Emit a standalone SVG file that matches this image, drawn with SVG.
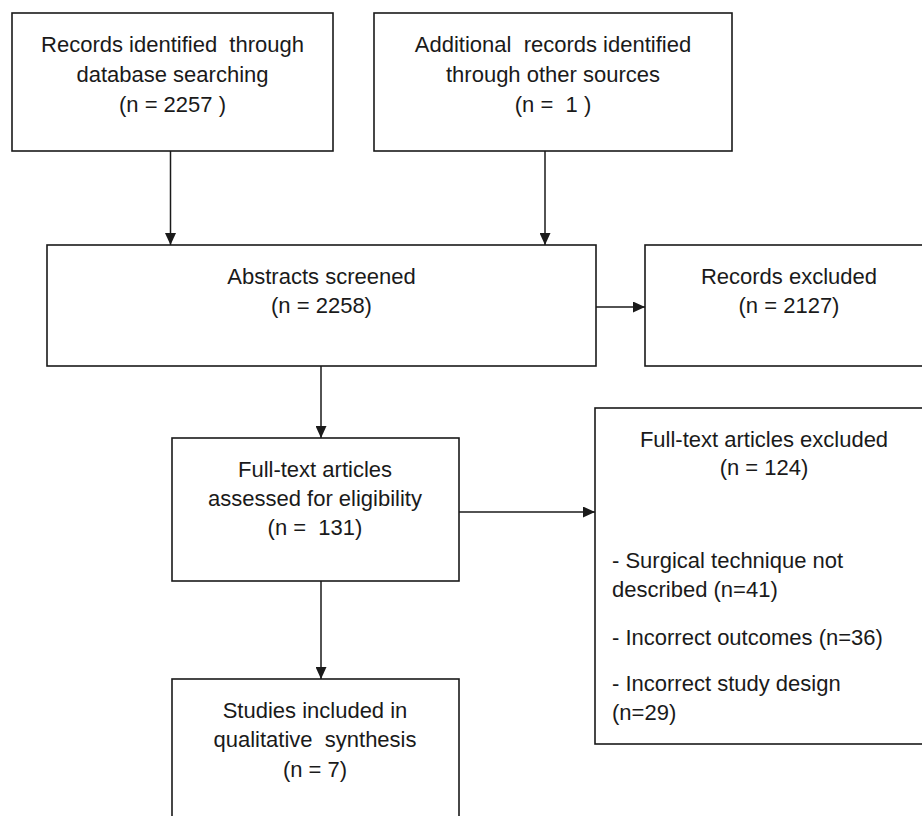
<svg xmlns="http://www.w3.org/2000/svg" width="922" height="816" viewBox="0 0 922 816">
<defs>
<style>
.box{fill:#fff;stroke:#1a1a1a;stroke-width:1.6}
.t{font-family:"Liberation Sans",Arial,sans-serif;font-size:22px;fill:#1a1a1a;white-space:pre}
.c{text-anchor:middle}
.ln{stroke:#1a1a1a;stroke-width:1.5;fill:none}
</style>
<marker id="ah" viewBox="0 0 12 11" refX="12" refY="5.5" markerWidth="12" markerHeight="11" markerUnits="userSpaceOnUse" orient="auto">
<path d="M0,0 L12,5.5 L0,11 z" fill="#1a1a1a"/>
</marker>
</defs>
<rect width="922" height="816" fill="#fff"/>
<g id="connectors">
<line class="ln" x1="170.5" y1="151" x2="170.5" y2="245" marker-end="url(#ah)"/>
<line class="ln" x1="545" y1="151" x2="545" y2="245" marker-end="url(#ah)"/>
<line class="ln" x1="596" y1="307" x2="645" y2="307" marker-end="url(#ah)"/>
<line class="ln" x1="321" y1="366" x2="321" y2="438" marker-end="url(#ah)"/>
<line class="ln" x1="459" y1="512" x2="595" y2="512" marker-end="url(#ah)"/>
<line class="ln" x1="321" y1="581" x2="321" y2="679" marker-end="url(#ah)"/>
</g>
<g id="db">
<rect class="box" x="12" y="13" width="321" height="138"/>
<text class="t c" x="172.5" y="52" xml:space="preserve">Records identified  through</text>
<text class="t c" x="172.5" y="82">database searching</text>
<text class="t c" x="172.5" y="112" xml:space="preserve">(n = 2257 )</text>
</g>
<g id="other">
<rect class="box" x="374" y="13" width="358" height="138"/>
<text class="t c" x="553" y="52" xml:space="preserve">Additional  records identified</text>
<text class="t c" x="553" y="82">through other sources</text>
<text class="t c" x="553" y="112" xml:space="preserve">(n =  1 )</text>
</g>
<g id="abstracts">
<rect class="box" x="47" y="245" width="549" height="121"/>
<text class="t c" x="321.5" y="284">Abstracts screened</text>
<text class="t c" x="321.5" y="313">(n = 2258)</text>
</g>
<g id="recexcl">
<rect class="box" x="645" y="245" width="290" height="121"/>
<text class="t c" x="789" y="284">Records excluded</text>
<text class="t c" x="789" y="313">(n = 2127)</text>
</g>
<g id="fulltext">
<rect class="box" x="172" y="438" width="287" height="143"/>
<text class="t c" x="315" y="477">Full-text articles</text>
<text class="t c" x="315" y="506">assessed for eligibility</text>
<text class="t c" x="315" y="535" xml:space="preserve">(n =  131)</text>
</g>
<g id="ftexcl">
<rect class="box" x="595" y="408" width="340" height="336"/>
<text class="t c" x="764" y="447">Full-text articles excluded</text>
<text class="t c" x="764" y="475">(n = 124)</text>
<text class="t" x="612" y="568">- Surgical technique not</text>
<text class="t" x="612" y="597">described (n=41)</text>
<text class="t" x="612" y="645">- Incorrect outcomes (n=36)</text>
<text class="t" x="612" y="691">- Incorrect study design</text>
<text class="t" x="612" y="720">(n=29)</text>
</g>
<g id="included">
<rect class="box" x="172" y="679" width="287" height="160"/>
<text class="t c" x="315" y="718">Studies included in</text>
<text class="t c" x="315" y="747" xml:space="preserve">qualitative  synthesis</text>
<text class="t c" x="315" y="777">(n = 7)</text>
</g>
</svg>
